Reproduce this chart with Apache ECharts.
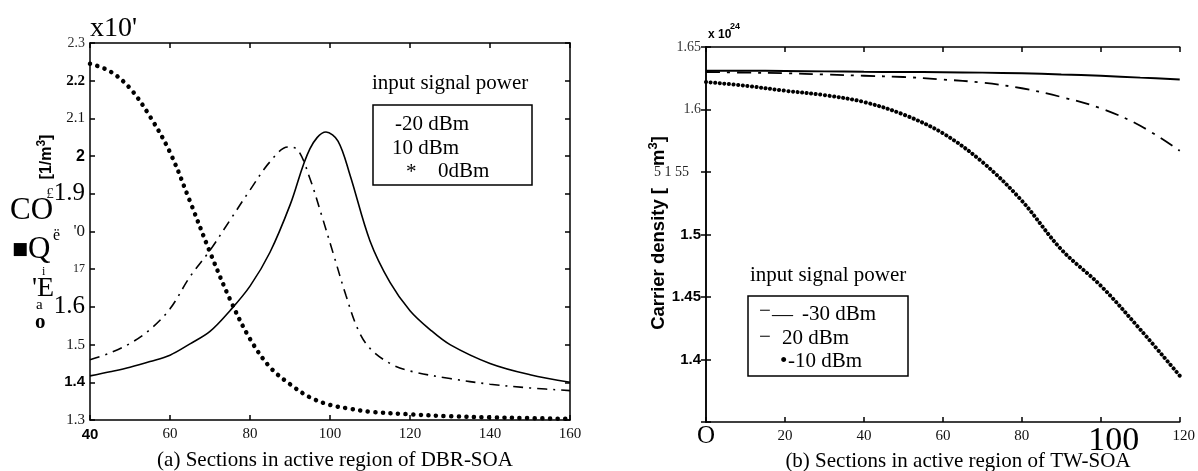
<!DOCTYPE html>
<html>
<head>
<meta charset="utf-8">
<script src="https://cdn.jsdelivr.net/npm/echarts/dist/echarts.min.js"></script>
<style>
  html, body { margin: 0; padding: 0; background: #fff; }
  #chart { width: 1198px; height: 471px; }
</style>
</head>
<body>
<div id="chart"></div>
<script>
// (a) DBR-SOA: carrier density along the active-region sections (x 1e24 1/m^3)
const dbrX_m20 = [40, 45, 50, 55, 60, 65, 70, 75, 80, 85, 90, 95, 99, 102, 105, 110, 115, 120, 125, 130, 140, 150, 160];
const dbrY_m20 = [1.417, 1.428, 1.44, 1.455, 1.472, 1.502, 1.535, 1.59, 1.655, 1.745, 1.87, 2.02, 2.064, 2.04, 1.95, 1.775, 1.665, 1.59, 1.54, 1.50, 1.45, 1.42, 1.40];

const dbrX_10 = [40, 45, 50, 55, 60, 65, 70, 75, 80, 85, 89.5, 92, 95, 98, 101, 104, 107, 110, 115, 120, 130, 140, 150, 160];
const dbrY_10 = [1.46, 1.478, 1.503, 1.54, 1.595, 1.68, 1.75, 1.83, 1.91, 1.985, 2.024, 2.016, 1.94, 1.84, 1.735, 1.63, 1.54, 1.49, 1.45, 1.43, 1.41, 1.395, 1.385, 1.378];

const dbrX_0 = [40, 45, 50, 55, 60, 65, 70, 75, 80, 85, 90, 95, 100, 105, 110, 120, 130, 140, 150, 160];
const dbrY_0 = [2.245, 2.225, 2.18, 2.105, 2.01, 1.88, 1.745, 1.62, 1.515, 1.44, 1.395, 1.36, 1.34, 1.33, 1.322, 1.315, 1.31, 1.307, 1.305, 1.303];

// (b) TW-SOA: carrier density along the active-region sections (x 1e24 1/m^3)
const twX = [0, 10, 20, 30, 40, 50, 60, 70, 80, 90, 100, 110, 120];
const twY_m30 = [1.631, 1.631, 1.6308, 1.6305, 1.6302, 1.63, 1.6298, 1.6295, 1.629, 1.628, 1.627, 1.6255, 1.624];
const twY_20  = [1.630, 1.6295, 1.629, 1.628, 1.627, 1.626, 1.624, 1.6215, 1.617, 1.610, 1.601, 1.587, 1.567];
const twY_m10 = [1.622, 1.619, 1.615, 1.6115, 1.606, 1.596, 1.581, 1.558, 1.527, 1.488, 1.459, 1.424, 1.387];

// tick label texts, bottom/left to top/right
const dbrXLabels = ['40', '60', '80', '100', '120', '140', '160'];
const dbrYLabels = ['1.3', '1.4', '1.5', '1.6', '17', "'0", '£1.9', '2', '2.1', '2.2', '2.3'];
const twXLabels = ['O', '20', '40', '60', '80', '100', '120'];
const twYLabels = ['', '1.4', '1.45', '1.5', '5 1 55', '1.6', '1.65'];

const SERIF = '"Liberation Serif","Times New Roman",serif';
const SANS = '"Liberation Sans",Arial,sans-serif';

const pairs = (xs, ys) => xs.map((x, i) => [x, ys[i]]);

// label style keys, one per tick
const dbrXStyle = ['bs', 's', 's', 's', 's', 's', 's'];
const dbrYStyle = ['s', 'bs', 's', 'big', 'tiny', 'mid', 'nine', 'bs2', 's', 'bserif', 'sg'];
const twXStyle = ['o', 'sx', 'sx', 'sx', 'sx', 'huge', 's120'];
const twYStyle = ['s', 'bs', 'bs', 'bs', 'odd', 'sg', 'sg'];

const richCommon = {
  s:      { fontFamily: SERIF, fontSize: 15, color: '#111' },
  sx:     { fontFamily: SERIF, fontSize: 15, color: '#111', padding: [5, 0, 0, 0] },
  sg:     { fontFamily: SERIF, fontSize: 14, color: '#333' },
  bs:     { fontFamily: SANS, fontSize: 15, fontWeight: 'bold', color: '#000' },
  bs2:    { fontFamily: SANS, fontSize: 16, fontWeight: 'bold', color: '#000' },
  bserif: { fontFamily: SERIF, fontSize: 15, fontWeight: 'bold', color: '#000' },
  big:    { fontFamily: SERIF, fontSize: 25, color: '#000' },
  tiny:   { fontFamily: SERIF, fontSize: 12, color: '#222' },
  mid:    { fontFamily: SERIF, fontSize: 17, color: '#111' },
  pound:  { fontFamily: SERIF, fontSize: 15, color: '#222' },
  o:      { fontFamily: SERIF, fontSize: 25, color: '#000' },
  huge:   { fontFamily: SERIF, fontSize: 34, color: '#000', padding: [0, 0, 0, 26] },
  s120:   { fontFamily: SERIF, fontSize: 15, color: '#111', padding: [5, 0, 0, 8] },
  odd:    { fontFamily: SERIF, fontSize: 14, color: '#222', padding: [0, 12, 0, 0] }
};

function fmtFrom(labels, styles) {
  return function (value, index) {
    const t = labels[index];
    if (!t) return '';
    if (styles[index] === 'nine') return '{pound|£}{big|1.9}';
    return '{' + styles[index] + '|' + t + '}';
  };
}

const axisLine = { show: true, lineStyle: { color: '#000', width: 1.5 } };
const axisTick = { show: true, inside: true, length: 5, lineStyle: { color: '#000', width: 1.5 } };

function mainAxis(grid, min, max, interval, labels, styles, margin) {
  return {
    type: 'value', gridIndex: grid, min: min, max: max, interval: interval,
    axisLine: axisLine, axisTick: axisTick, splitLine: { show: false },
    axisLabel: { margin: margin, formatter: fmtFrom(labels, styles), rich: richCommon,
                 showMinLabel: true, showMaxLabel: true }
  };
}
function mirrorAxis(grid, min, max, interval, pos) {
  return {
    type: 'value', gridIndex: grid, min: min, max: max, interval: interval, position: pos,
    axisLine: axisLine, axisTick: axisTick, splitLine: { show: false }, axisLabel: { show: false }
  };
}

const chart = echarts.init(document.getElementById('chart'), null, { renderer: 'canvas' });

const txt = (x, y, text, font, extra) => Object.assign({
  type: 'text', x: x, y: y, silent: true,
  style: Object.assign({ text: text, font: font, fill: '#000', align: 'left', verticalAlign: 'middle' }, extra || {})
});

const option = {
  animation: false,
  backgroundColor: '#fff',
  grid: [
    { left: 90, top: 43, width: 480, height: 377 },
    { left: 706, top: 47, width: 480, height: 375 }
  ],
  xAxis: [
    mainAxis(0, 40, 160, 20, dbrXLabels, dbrXStyle, 7),
    mirrorAxis(0, 40, 160, 20, 'top'),
    mainAxis(1, 0, 120, 20, twXLabels, twXStyle, 2),
    mirrorAxis(1, 0, 120, 20, 'top')
  ],
  yAxis: [
    mainAxis(0, 1.3, 2.3, 0.1, dbrYLabels, dbrYStyle, 5),
    mirrorAxis(0, 1.3, 2.3, 0.1, 'right'),
    mainAxis(1, 1.35, 1.65, 0.05, twYLabels, twYStyle, 5),
    mirrorAxis(1, 1.35, 1.65, 0.05, 'right')
  ],
  series: [
    { name: '-20 dBm', type: 'line', xAxisIndex: 0, yAxisIndex: 0, data: pairs(dbrX_m20, dbrY_m20),
      smooth: 0.35, symbol: 'none', lineStyle: { color: '#000', width: 1.6 } },
    { name: '10 dBm', type: 'line', xAxisIndex: 0, yAxisIndex: 0, data: pairs(dbrX_10, dbrY_10),
      smooth: 0.35, symbol: 'none', lineStyle: { color: '#000', width: 1.6, type: [10, 6, 2, 6] } },
    { name: '0dBm', type: 'line', xAxisIndex: 0, yAxisIndex: 0, data: pairs(dbrX_0, dbrY_0),
      smooth: 0.35, symbol: 'none', lineStyle: { color: '#000', width: 4.5, type: [0.1, 7.5], cap: 'round' } },

    { name: '-30 dBm', type: 'line', xAxisIndex: 2, yAxisIndex: 2, data: pairs(twX, twY_m30),
      smooth: 0.35, symbol: 'none', lineStyle: { color: '#000', width: 2 } },
    { name: '20 dBm', type: 'line', xAxisIndex: 2, yAxisIndex: 2, data: pairs(twX, twY_20),
      smooth: 0.35, symbol: 'none', lineStyle: { color: '#000', width: 1.8, type: [14, 7, 3, 7] } },
    { name: '-10 dBm', type: 'line', xAxisIndex: 2, yAxisIndex: 2, data: pairs(twX, twY_m10),
      smooth: 0.35, symbol: 'none', lineStyle: { color: '#000', width: 4, type: [0.1, 4.5], cap: 'round' } }
  ],
  graphic: [
    // left panel: exponent and axis title fragments
    txt(90, 29, "x10'", '28px ' + SERIF),
    { type: 'text', x: 47, y: 157, rotation: Math.PI / 2, silent: true,
      style: { text: '{a|[1/m}{b|3}{a|]}', align: 'center', verticalAlign: 'middle', fill: '#000',
               rich: { a: { fontFamily: SANS, fontWeight: 'bold', fontSize: 16 },
                       b: { fontFamily: SANS, fontWeight: 'bold', fontSize: 12, padding: [0, 0, 10, 0] } } } },
    txt(10, 211, 'CO', '31px ' + SERIF),
    { type: 'text', x: 12, y: 250, silent: true,
      style: { text: '{sq|■}{q|Q}', align: 'left', verticalAlign: 'middle', fill: '#000',
               rich: { sq: { fontFamily: 'DejaVu Sans', fontSize: 17 }, q: { fontFamily: SERIF, fontSize: 31 } } } },
    txt(53, 236, 'ë', '16px ' + SERIF),
    txt(42, 272, 'i', '12px ' + SERIF),
    txt(32, 289, "'E", '28px ' + SERIF),
    txt(36, 305, 'a', '15px ' + SERIF),
    txt(35, 323, 'o', 'bold 21px ' + SERIF),

    // left panel legend
    txt(372, 83, 'input signal power', '21px ' + SERIF),
    { type: 'rect', shape: { x: 373, y: 105, width: 159, height: 80 }, silent: true,
      style: { fill: 'none', stroke: '#000', lineWidth: 1.5 } },
    txt(395, 124, '-20 dBm', '21px ' + SERIF),
    txt(392, 148, '10 dBm', '21px ' + SERIF),
    txt(406, 172, '*', '21px ' + SERIF),
    txt(438, 171, '0dBm', '21px ' + SERIF),

    // right panel: exponent and axis title (gap left for the 1.55 tick label)
    txt(708, 35, 'x 10', 'bold 12px ' + SANS),
    txt(730, 27, '24', 'bold 9px ' + SANS),
    { type: 'text', x: 659, y: 233, rotation: Math.PI / 2, silent: true,
      style: { text: '{a|Carrier density [}{g| }{a|m}{b|3}{a|]}', align: 'center', verticalAlign: 'middle', fill: '#000',
               rich: { a: { fontFamily: SANS, fontWeight: 'bold', fontSize: 18.5 },
                       g: { fontFamily: SANS, fontSize: 18, width: 22 },
                       b: { fontFamily: SANS, fontWeight: 'bold', fontSize: 13, padding: [0, 0, 11, 0] } } } },

    // right panel legend
    txt(750, 275, 'input signal power', '21px ' + SERIF),
    { type: 'rect', shape: { x: 748, y: 296, width: 160, height: 80 }, silent: true,
      style: { fill: 'none', stroke: '#000', lineWidth: 1.5 } },
    txt(759, 311, '−', '21px ' + SERIF),
    txt(772, 315, '—', '21px ' + SERIF),
    txt(802, 314, '-30 dBm', '21px ' + SERIF),
    txt(759, 337, '−', '21px ' + SERIF),
    txt(782, 338, '20 dBm', '21px ' + SERIF),
    txt(780, 361, '•', '21px ' + SERIF),
    txt(788, 361, '-10 dBm', '21px ' + SERIF),

    // captions
    { type: 'text', x: 335, y: 460, silent: true,
      style: { text: '(a) Sections in active region of DBR-SOA', font: '21px ' + SERIF, fill: '#000', align: 'center', verticalAlign: 'middle' } },
    { type: 'text', x: 958, y: 461, silent: true,
      style: { text: '(b) Sections in active region of TW-SOA', font: '21px ' + SERIF, fill: '#000', align: 'center', verticalAlign: 'middle' } }
  ]
};

chart.setOption(option);
</script>
</body>
</html>
